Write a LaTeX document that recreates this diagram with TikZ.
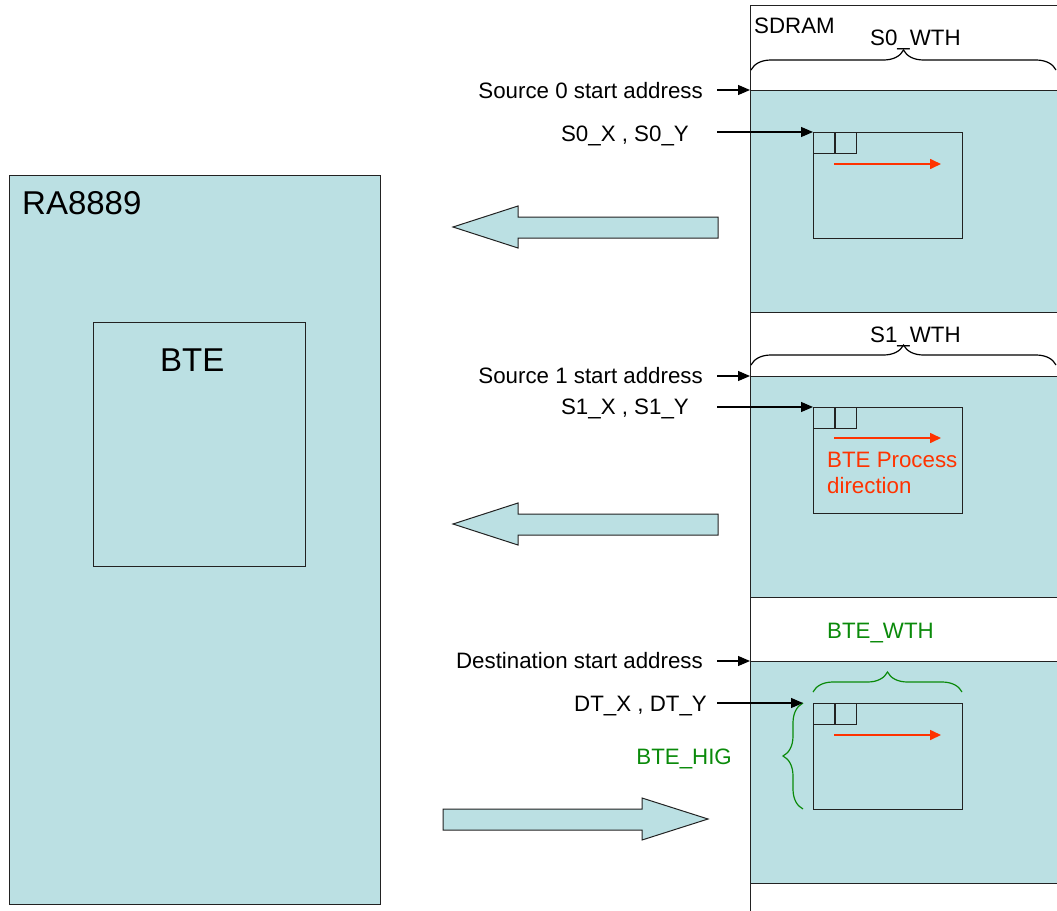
\documentclass[tikz,border=0pt]{standalone}
\usepackage{fontspec}
\setmainfont{Liberation Sans}
\usetikzlibrary{arrows.meta,decorations.pathreplacing,calc}
\definecolor{fillb}{HTML}{BBE0E3}
\definecolor{redc}{HTML}{FF3300}
\definecolor{greenc}{HTML}{0A8A0A}
\definecolor{linec}{HTML}{222222}
\begin{document}
\begin{tikzpicture}[x=1pt,y=-1pt,
  box/.style={draw=linec, fill=fillb, line width=1.3pt, inner sep=0pt, anchor=north west},
  winbox/.style={draw=linec, line width=1.3pt, inner sep=0pt, anchor=north west, minimum width=149pt, minimum height=106pt},
  cellbox/.style={draw=linec, line width=1.1pt, inner sep=0pt, anchor=north west, minimum width=21pt, minimum height=21pt},
  region/.style={draw=linec, fill=fillb, line width=1.3pt, inner sep=0pt, anchor=north west, minimum width=320pt},
  lbl/.style={font=\fontsize{22.3}{26}\selectfont, inner sep=0pt},
  big/.style={font=\fontsize{33}{38}\selectfont, inner sep=0pt},
  ptr/.style={line width=1.2pt, -{Triangle[length=12pt,width=10pt]}},
  proc/.style={draw=redc, line width=1.6pt, -{Triangle[length=11pt,width=10pt]}},
  blk/.style={draw=linec, fill=fillb, line width=1pt, line join=miter},
  brc/.style={decorate, line width=1.2pt, decoration={brace, amplitude=20pt}},
]
\useasboundingbox (0,0) rectangle (1057,910);
\clip (0,0) rectangle (1057,910);

% RA8889 block
\node[box, minimum width=371pt, minimum height=729pt] (ra) at (9,175) {};
\node[big, anchor=base west] (ralbl) at (22,214) {RA8889};
\node[box, minimum width=212pt, minimum height=244pt] (bte) at (93,322) {};
\node[big, anchor=base west] (btelbl) at (160,371) {BTE};

% SDRAM
\node[draw=linec, line width=1.3pt, inner sep=0pt, anchor=north west, minimum width=320pt, minimum height=920pt] (sd) at (750,5) {};
\node[lbl, anchor=base west] (sdlbl) at (754,33) {SDRAM};

\node[region, minimum height=222pt] (r0) at (750,90) {};
\node[region, minimum height=221pt] (r1) at (750,376) {};
\node[region, minimum height=222pt] (r2) at (750,661) {};

% windows
\node[winbox] (w0) at (813,132) {};
\node[cellbox] (c0a) at (w0.north west) {};
\node[cellbox] (c0b) at (c0a.north east) {};
\node[winbox] (w1) at (813,407) {};
\node[cellbox] (c1a) at (w1.north west) {};
\node[cellbox] (c1b) at (c1a.north east) {};
\node[winbox] (w2) at (813,703) {};
\node[cellbox] (c2a) at (w2.north west) {};
\node[cellbox] (c2b) at (c2a.north east) {};

% process arrows
\coordinate (e0a) at (834,164); \coordinate (e0b) at (941,164);
\coordinate (e1a) at (834,438); \coordinate (e1b) at (941,438);
\coordinate (e2a) at (834,735); \coordinate (e2b) at (941,735);
\draw[proc] (e0a) -- (e0b);
\draw[proc] (e1a) -- (e1b);
\draw[proc] (e2a) -- (e2b);
\node[lbl, anchor=base west, text=redc] (pd1) at (827,467) {BTE Process};
\node[lbl, anchor=base west, text=redc] (pd2) at (827,493) {direction};

% braces
\draw[brc] (751,70) -- (1056,70);
\node[lbl, anchor=base west] (s0w) at (870,45) {S0\_WTH};
\draw[brc] (751,365) -- (1056,365);
\node[lbl, anchor=base west] (s1w) at (870,342) {S1\_WTH};
\draw[brc, draw=greenc] (813,692) -- (962,692);
\node[lbl, anchor=base west, text=greenc] (bw) at (827,638) {BTE\_WTH};
\coordinate (hb) at (803,703);
\draw[brc, draw=greenc] (803,809) -- (hb);
\node[lbl, anchor=base east, text=greenc] (bh) at (732,764) {BTE\_HIG};

% labels and pointers
\node[lbl, anchor=base east] (l0) at (703,98) {Source 0 start address};
\node[lbl, anchor=base east] (x0) at (689,141) {S0\_X , S0\_Y};
\node[lbl, anchor=base east] (l1) at (703,383) {Source 1 start address};
\node[lbl, anchor=base east] (x1) at (689,414) {S1\_X , S1\_Y};
\node[lbl, anchor=base east] (l2) at (703,668) {Destination start address};
\node[lbl, anchor=base east] (x2) at (707,711) {DT\_X , DT\_Y};

\coordinate (p0) at (717,90);
\coordinate (q0) at (717,132);
\coordinate (p1) at (717,376);
\coordinate (q1) at (717,407);
\coordinate (p2) at (717,661);
\coordinate (q2) at (717,703);
\draw[ptr] (p0) -- (r0.north west);
\draw[ptr] (q0) -- (w0.north west);
\draw[ptr] (p1) -- (r1.north west);
\draw[ptr] (q1) -- (w1.north west);
\draw[ptr] (p2) -- (r2.north west);
\draw[ptr] (q2) -- (hb);

% block arrows
\draw[blk] (718,217) -- (518,217) -- (518,206) -- (453,227) -- (518,248) -- (518,238) -- (718,238) -- cycle;
\draw[blk] (718,514) -- (518,514) -- (518,503) -- (453,524) -- (518,545) -- (518,535) -- (718,535) -- cycle;
\draw[blk] (443,809) -- (642,809) -- (642,798) -- (708,819) -- (642,840) -- (642,830) -- (443,830) -- cycle;
\end{tikzpicture}
\end{document}
